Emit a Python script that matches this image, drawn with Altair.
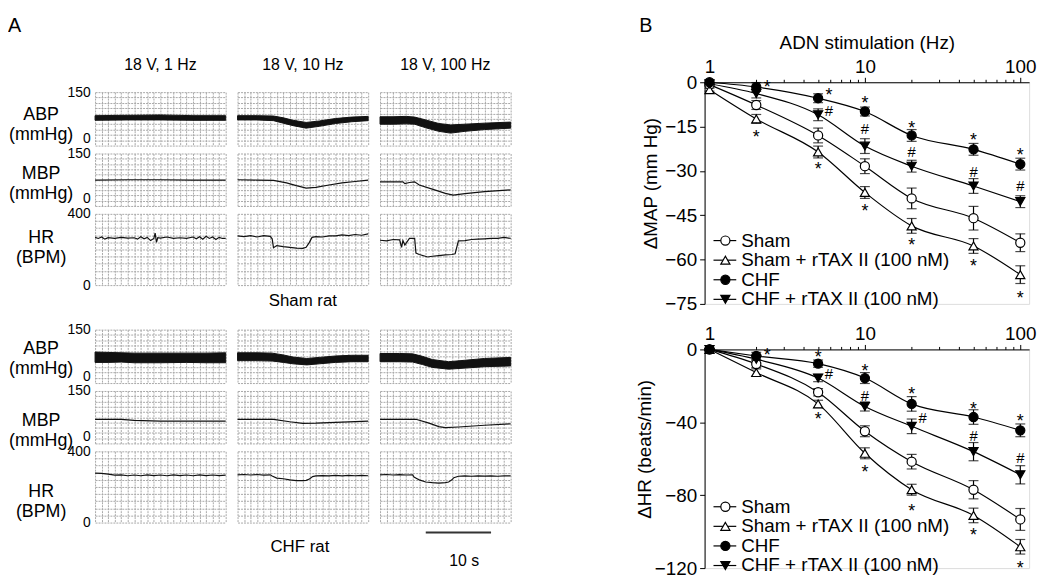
import altair as alt
import pandas as pd

FONT = "Liberation Sans"

# ---------------- Panel B data ----------------
freq = [1, 2, 5, 10, 20, 50, 100]
series = ["Sham", "Sham + rTAX II (100 nM)", "CHF", "CHF + rTAX II (100 nM)"]

map_sham = [-0.8, -7.7, -18.0, -28.4, -39.3, -46.0, -54.3]
map_sham_rtax = [-2.5, -12.4, -23.6, -37.3, -48.6, -55.4, -65.1]
map_chf = [0.0, -1.6, -5.4, -9.9, -18.0, -22.7, -27.7]
map_chf_rtax = [-0.5, -3.8, -11.0, -21.6, -28.4, -35.1, -40.4]
map_err_sham = [0.5, 1.5, 2.5, 2.5, 3.5, 4.0, 3.0]
map_err_sham_rtax = [0.5, 1.5, 2.0, 2.0, 2.5, 2.5, 3.0]
map_err_chf = [0.5, 1.5, 1.5, 1.5, 2.0, 2.0, 2.0]
map_err_chf_rtax = [0.5, 1.5, 2.0, 2.5, 2.0, 2.5, 2.0]

hr_sham = [0.0, -8.0, -23.5, -44.9, -61.6, -77.0, -93.3]
hr_sham_rtax = [0.0, -12.7, -29.9, -57.0, -77.0, -91.1, -108.3]
hr_chf = [0.0, -3.6, -7.8, -15.7, -29.9, -37.1, -44.4]
hr_chf_rtax = [0.0, -5.4, -15.7, -31.3, -42.2, -56.1, -68.8]
hr_err_sham = [0.5, 2.0, 2.0, 3.0, 4.0, 5.0, 6.0]
hr_err_sham_rtax = [0.5, 2.0, 2.0, 3.0, 3.0, 4.0, 4.0]
hr_err_chf = [0.5, 2.0, 2.0, 3.0, 4.0, 4.0, 3.5]
hr_err_chf_rtax = [0.5, 2.0, 2.0, 2.5, 4.0, 5.0, 5.0]

# significance marks: frequency, y position, symbol, side ("c" above/below, "r" right)
map_ann_x = [2, 2, 5, 5, 5, 10, 10, 10, 20, 20, 20, 50, 50, 50, 100, 100, 100]
map_ann_y = [-0.4, -17.1, -2.9, -9.3, -28.2, -5.8, -15.4, -42.4, -14.3, -23.2, -53.6,
             -18.2, -29.9, -61.0, -23.2, -34.7, -71.7]
map_ann_s = ["*", "*", "*", "#", "*", "*", "#", "*", "*", "#", "*", "*", "#", "*", "*", "#", "*"]
map_ann_side = ["r", "c", "r", "r", "c", "c", "c", "c", "c", "c", "c", "c", "c", "c", "c", "c", "c"]

hr_ann_x = [2, 5, 5, 5, 10, 10, 10, 20, 20, 20, 50, 50, 50, 100, 100, 100]
hr_ann_y = [-0.9, -2.2, -12.7, -35.9, -9.6, -24.8, -65.2, -22.6, -37.1, -86.4,
            -30.3, -47.1, -99.6, -37.1, -59.3, -117.7]
hr_ann_s = ["*", "*", "#", "*", "*", "#", "*", "*", "#", "*", "*", "#", "*", "*", "#", "*"]
hr_ann_side = ["r", "c", "r", "c", "c", "c", "c", "c", "r", "c", "c", "c", "c", "c", "c", "c"]

# ---------------- Panel A traces (time in s, values) ----------------
# Sham rat
s_abp1_t = [0, 5, 10, 15, 20]
s_abp1_lo = [71, 72, 72, 71, 71]
s_abp1_hi = [84, 85, 86, 84, 84]
s_abp2_t = [0, 3, 5.5, 7, 8.5, 10.5, 12.5, 15, 17.5, 20]
s_abp2_lo = [72, 72, 70, 63, 56, 49, 54, 62, 67, 70]
s_abp2_hi = [84, 84, 83, 78, 71, 65, 69, 76, 80, 82]
s_abp3_t = [0, 2, 4, 5.3, 7, 9, 10.8, 13, 16, 20]
s_abp3_lo = [60, 60, 61, 60, 50, 40, 35, 40, 45, 49]
s_abp3_hi = [81, 81, 82, 80, 72, 62, 58, 60, 63, 66]

s_mbp1_t = [0, 5, 10, 15, 20]
s_mbp1_v = [74, 75, 75, 74, 74]
s_mbp2_t = [0, 3, 5.5, 7.5, 9, 10.5, 12, 14, 16, 18, 20]
s_mbp2_v = [75, 74, 73, 66, 58, 51, 53, 60, 66, 70, 74]
s_mbp3_t = [0, 3.5, 3.8, 4.5, 5.3, 6, 8, 10, 11.2, 13, 16, 20]
s_mbp3_v = [69, 69, 64, 67, 69, 60, 48, 36, 31, 35, 41, 46]

s_hr1_t = [0, 0.5, 1, 1.5, 2, 3, 4, 5, 6, 6.5, 7, 7.5, 8, 8.5, 9, 9.2, 9.4, 9.6, 10, 11, 12,
           13, 14, 15, 15.5, 16, 16.5, 17, 17.5, 18, 18.5, 19, 19.5, 20]
s_hr1_v = [268, 262, 270, 258, 266, 262, 268, 264, 266, 258, 272, 260, 268, 250, 262, 292, 240,
           266, 264, 270, 262, 266, 262, 270, 260, 272, 258, 274, 262, 270, 256, 268, 262, 262]
s_hr2_t = [0, 1, 2, 3, 4, 5, 5.3, 5.5, 6, 7, 8, 9, 10, 10.5, 11, 11.4, 12, 13, 14, 15, 16, 17,
           18, 19, 20]
s_hr2_v = [276, 272, 278, 270, 278, 274, 260, 210, 222, 216, 212, 208, 206, 212, 240, 268, 272,
           270, 276, 276, 282, 278, 284, 280, 288]
s_hr3_t = [0, 1, 2, 3, 3.3, 3.5, 3.8, 4.5, 5.3, 5.5, 6, 7.3, 8, 9, 10, 11, 11.5, 12, 13, 14, 15,
           16, 17, 18, 19, 20]
s_hr3_v = [252, 248, 256, 254, 212, 250, 225, 262, 262, 180, 172, 158, 162, 166, 170, 172, 176,
           248, 250, 256, 258, 260, 262, 262, 268, 262]

# CHF rat
c_abp1_t = [0, 2, 4, 6, 10, 14, 17, 20]
c_abp1_lo = [58, 58, 59, 57, 57, 58, 57, 57]
c_abp1_hi = [87, 86, 85, 84, 84, 84, 84, 85]
c_abp2_t = [0, 3, 5.3, 7, 8.5, 10.6, 12.5, 15, 17.5, 20]
c_abp2_lo = [63, 63, 62, 58, 54, 51, 54, 58, 60, 60]
c_abp2_hi = [85, 85, 84, 79, 73, 69, 72, 76, 78, 78]
c_abp3_t = [0, 3, 5, 6.5, 8, 10.5, 13, 16, 20]
c_abp3_lo = [60, 60, 59, 52, 44, 39, 42, 46, 48]
c_abp3_hi = [83, 83, 82, 75, 66, 60, 64, 69, 72]

c_mbp1_t = [0, 4, 6, 10, 20]
c_mbp1_v = [69, 69, 66, 64, 64]
c_mbp2_t = [0, 5.5, 8, 10, 12, 16, 20]
c_mbp2_v = [69, 69, 62, 57.5, 58, 61, 64]
c_mbp3_t = [0, 5.5, 7.5, 9, 10, 12, 16, 20]
c_mbp3_v = [69, 69, 58, 48, 45, 47, 52, 56]

c_hr1_t = list(range(0, 21))
c_hr1_v = [278, 276, 272, 266, 268, 263, 267, 263, 268, 264, 267, 263, 268, 264, 267, 263, 268,
           264, 267, 264, 266]
c_hr2_t = [0, 1, 2, 3, 4, 5, 5.3, 6, 7, 8, 9, 10, 10.5, 11, 11.5, 12, 13, 14, 15, 16, 17, 18, 19, 20]
c_hr2_v = [268, 270, 267, 270, 266, 268, 262, 250, 246, 240, 236, 236, 237, 245, 258, 262, 264,
           262, 265, 262, 265, 263, 265, 263]
c_hr3_t = [0, 1, 2, 3, 4, 5, 5.2, 5.6, 6, 7, 8, 9, 10, 10.5, 11, 11.3, 12, 13, 14, 15, 16, 17, 18,
           19, 20]
c_hr3_v = [268, 270, 267, 269, 267, 268, 256, 248, 240, 228, 224, 222, 224, 228, 240, 252, 260,
           262, 260, 262, 261, 262, 260, 262, 262]

col_titles = ["18 V, 1 Hz", "18 V, 10 Hz", "18 V, 100 Hz"]
scale_bar_t = [7, 17]

# ---------------- layout constants ----------------
TW = 132
H_ABP, H_MBP, H_HR = 54, 53, 72
GRID = "#a8a8a8"
NO_FRAME = alt.ViewBackground(strokeOpacity=0)
T_SCALE = alt.Scale(domain=[0, 20], nice=False)
T_AXIS = alt.Axis(values=list(range(21)), grid=True, labels=False, ticks=False, domain=False,
                  title=None, gridColor=GRID, gridDash=[2, 1], gridWidth=1)


def label_text(txt, x, y, size, align="center"):
    return alt.Chart(pd.DataFrame({"lab": [txt]})).mark_text(
        fontSize=size, align=align, baseline="alphabetic", font=FONT, color="black"
    ).encode(text="lab:N", x=alt.value(x), y=alt.value(y))


def ghost_rule(x1, x2, y1, y2):
    # invisible rule that only fixes the layout bounds
    return alt.Chart(pd.DataFrame({"g": [0]})).mark_rule(strokeOpacity=0, opacity=0).encode(
        x=alt.value(x1), x2=alt.value(x2), y=alt.value(y1), y2=alt.value(y2))


def trace_panel(kind, col, t, v=None, lo=None, hi=None, title_y=20, extras=None):
    if kind == "HR":
        ymax, ystep, h, ttl = 400, 40, H_HR, ["HR", "(BPM)"]
        zero_base = "middle"
    else:
        ymax, ystep, h = 150, 15, (H_ABP if kind == "ABP" else H_MBP)
        ttl = [kind, "(mmHg)"]
        zero_base = "bottom"
    if v is not None:
        df = pd.DataFrame({"t": t, "v": v})
    else:
        df = pd.DataFrame({"t": t, "lo": lo, "hi": hi})
    xenc = alt.X("t:Q", scale=T_SCALE, axis=T_AXIS)
    yaxis_kw = dict(values=list(range(0, ymax + 1, ystep)), grid=True, ticks=False, domain=False,
                    gridColor=GRID, gridDash=[2, 1], gridWidth=1)
    if col == 0:
        yaxis = alt.Axis(labels=True, labelFontSize=14, labelPadding=5,
                         labelExpr=f"(datum.value==0||datum.value=={ymax})?datum.label:''",
                         labelBaseline={"condition": {"test": "datum.value==0", "value": zero_base},
                                        "value": "middle"},
                         title=ttl, titleAngle=0, titleAlign="center", titleBaseline="middle",
                         titleFontSize=18, titleLineHeight=20, titleX=-55, titleY=title_y,
                         **yaxis_kw)
    else:
        yaxis = alt.Axis(labels=False, title=None, **yaxis_kw)
    ysc = alt.Scale(domain=[0, ymax], nice=False)
    base = alt.Chart(df)
    if v is not None:
        main = base.mark_line(color="#111", strokeWidth=1.2).encode(
            x=xenc, y=alt.Y("v:Q", scale=ysc, axis=yaxis))
    else:
        main = base.mark_area(color="#111", stroke="#111", strokeWidth=1).encode(
            x=xenc, y=alt.Y("lo:Q", scale=ysc, axis=yaxis), y2="hi:Q")
    layers = [main] + (extras or [])
    return alt.layer(*layers).properties(width=TW, height=h, view=NO_FRAME)


def spacer(h, extras=None):
    base = alt.Chart(pd.DataFrame({"lab": [""]})).mark_text().encode(
        text="lab:N", x=alt.value(0), y=alt.value(0))
    return alt.layer(base, *(extras or [])).properties(width=TW, height=h, view=NO_FRAME)


bar_df = pd.DataFrame({"t": [scale_bar_t[0]], "t_end": [scale_bar_t[1]]})
scale_bar = alt.Chart(bar_df).mark_rule(color="#333", strokeWidth=2).encode(
    x=alt.X("t:Q", scale=T_SCALE, axis=T_AXIS), x2="t_end:Q", y=alt.value(H_HR + 10))

cells = [
    # header row: panel letter and column titles
    spacer(2, [label_text("A", -88, -51, 20, align="left"), ghost_rule(-88, -88, -60, 0),
               label_text(col_titles[0], TW / 2, -12, 16)]),
    spacer(2, [label_text(col_titles[1], TW / 2, -12, 16)]),
    spacer(2, [label_text(col_titles[2], TW / 2, -12, 16)]),
    # sham rat
    trace_panel("ABP", 0, s_abp1_t, lo=s_abp1_lo, hi=s_abp1_hi, title_y=23),
    trace_panel("ABP", 1, s_abp2_t, lo=s_abp2_lo, hi=s_abp2_hi),
    trace_panel("ABP", 2, s_abp3_t, lo=s_abp3_lo, hi=s_abp3_hi),
    trace_panel("MBP", 0, s_mbp1_t, v=s_mbp1_v, title_y=20),
    trace_panel("MBP", 1, s_mbp2_t, v=s_mbp2_v),
    trace_panel("MBP", 2, s_mbp3_t, v=s_mbp3_v),
    trace_panel("HR", 0, s_hr1_t, v=s_hr1_v, title_y=24),
    trace_panel("HR", 1, s_hr2_t, v=s_hr2_v,
                extras=[label_text("Sham rat", TW / 2, H_HR + 21, 17)]),
    trace_panel("HR", 2, s_hr3_t, v=s_hr3_v),
    # gap between the two rats
    spacer(29), spacer(29), spacer(29),
    # CHF rat
    trace_panel("ABP", 0, c_abp1_t, lo=c_abp1_lo, hi=c_abp1_hi, title_y=19),
    trace_panel("ABP", 1, c_abp2_t, lo=c_abp2_lo, hi=c_abp2_hi),
    trace_panel("ABP", 2, c_abp3_t, lo=c_abp3_lo, hi=c_abp3_hi),
    trace_panel("MBP", 0, c_mbp1_t, v=c_mbp1_v, title_y=30),
    trace_panel("MBP", 1, c_mbp2_t, v=c_mbp2_v),
    trace_panel("MBP", 2, c_mbp3_t, v=c_mbp3_v),
    trace_panel("HR", 0, c_hr1_t, v=c_hr1_v, title_y=41),
    trace_panel("HR", 1, c_hr2_t, v=c_hr2_v,
                extras=[label_text("CHF rat", TW / 2 - 3, H_HR + 30, 17)]),
    trace_panel("HR", 2, c_hr3_t, v=c_hr3_v,
                extras=[scale_bar, label_text("10 s", 85, H_HR + 44, 16)]),
]
panel_A = alt.concat(*cells, columns=3, spacing={"row": 8, "column": 12}, bounds="flush")

# ---------------- Panel B charts ----------------
BW, BH1, BH2 = 328, 224, 221
shape_scale = alt.Scale(domain=series, range=["circle", "triangle-up", "circle", "triangle-down"])
fill_scale = alt.Scale(domain=series, range=["white", "white", "black", "black"])
minor_vals = [1, 2, 3, 4, 5, 6, 7, 8, 9, 10, 20, 30, 40, 50, 60, 70, 80, 90, 100]


def long_df(vals, errs):
    rows = []
    for s, ys, es in zip(series, vals, errs):
        for f, yv, e in zip(freq, ys, es):
            rows.append({"series": s, "x": f, "y": yv, "lo": yv - e, "hi": yv + e})
    return pd.DataFrame(rows)


def dose_chart(df, ann, ymin, ystep, ytitle, title_x, h, xtitle, legend_y0, extras):
    xsc = alt.Scale(type="log", domain=[0.93, 114], nice=False)
    ysc = alt.Scale(domain=[ymin, 0], nice=False)
    xaxis = alt.Axis(orient="top", values=minor_vals, format="d",
                     labelExpr="(datum.value==1||datum.value==10||datum.value==100)?datum.label:''",
                     tickSize={"condition": {"test": "datum.value==1||datum.value==10||datum.value==100",
                                             "value": 5}, "value": 3},
                     labelFontSize=19, labelPadding=1, grid=False, title=xtitle,
                     titleFontSize=19, titlePadding=5)
    yaxis = alt.Axis(values=list(range(0, ymin - 1, -ystep)), tickSize=5, labelFontSize=19,
                     labelPadding=3, grid=False, title=ytitle, titleFontSize=19,
                     titleX=title_x, titleY=h / 2 - 10, titleAlign="center", titleBaseline="middle")
    base = alt.Chart(df)
    x = alt.X("x:Q", scale=xsc, axis=xaxis)
    lines = base.mark_line(interpolate="monotone", color="black", strokeWidth=1.2).encode(
        x=x, y=alt.Y("y:Q", scale=ysc, axis=yaxis), detail="series:N")
    err = base.mark_rule(color="black", strokeWidth=1.2).encode(x="x:Q", y="lo:Q", y2="hi:Q")
    cap_lo = base.mark_point(shape="stroke", size=100, color="black", strokeWidth=1.2).encode(
        x="x:Q", y="lo:Q")
    cap_hi = base.mark_point(shape="stroke", size=100, color="black", strokeWidth=1.2).encode(
        x="x:Q", y="hi:Q")
    pts = base.mark_point(filled=True, size=85, stroke="black", strokeWidth=1.2, opacity=1).encode(
        x="x:Q", y="y:Q",
        shape=alt.Shape("series:N", scale=shape_scale, legend=None),
        fill=alt.Fill("series:N", scale=fill_scale, legend=None))
    an = alt.Chart(ann)
    ann_layers = []
    for sym, side, fs, dy in [("*", "c", 18, 5), ("*", "r", 18, 5), ("#", "c", 15, 1), ("#", "r", 15, 1)]:
        ann_layers.append(an.transform_filter(
            f"datum.s=='{sym}' && datum.side=='{side}'").mark_text(
            fontSize=fs, font=FONT, color="black", dy=dy, dx=(11 if side == "r" else 0),
            baseline="middle").encode(x="x:Q", y="y:Q", text="s:N"))
    leg = alt.Chart(pd.DataFrame({"series": series, "row": [0, 1, 2, 3]})).transform_calculate(
        ly=f"{legend_y0} + datum.row*19.8")
    leg_line = leg.mark_rule(color="black", strokeWidth=1.2).encode(
        x=alt.value(9), x2=alt.value(32), y=alt.Y("ly:Q", scale=None))
    leg_pt = leg.mark_point(filled=True, size=85, stroke="black", strokeWidth=1.2, opacity=1).encode(
        x=alt.value(21), y=alt.Y("ly:Q", scale=None),
        shape=alt.Shape("series:N", scale=shape_scale, legend=None),
        fill=alt.Fill("series:N", scale=fill_scale, legend=None))
    leg_tx = leg.mark_text(fontSize=19, font=FONT, align="left", baseline="middle", color="black").encode(
        x=alt.value(37), y=alt.Y("ly:Q", scale=None), text="series:N")
    return alt.layer(lines, err, cap_lo, cap_hi, pts, *ann_layers, leg_line, leg_pt, leg_tx,
                     *extras).properties(width=BW, height=h)


map_df = long_df([map_sham, map_sham_rtax, map_chf, map_chf_rtax],
                 [map_err_sham, map_err_sham_rtax, map_err_chf, map_err_chf_rtax])
hr_df = long_df([hr_sham, hr_sham_rtax, hr_chf, hr_chf_rtax],
                [hr_err_sham, hr_err_sham_rtax, hr_err_chf, hr_err_chf_rtax])
map_ann = pd.DataFrame({"x": map_ann_x, "y": map_ann_y, "s": map_ann_s, "side": map_ann_side})
hr_ann = pd.DataFrame({"x": hr_ann_x, "y": hr_ann_y, "s": hr_ann_s, "side": hr_ann_side})

map_chart = dose_chart(map_df, map_ann, -75, 15, "ΔMAP (mm Hg)", -55, BH1, "ADN stimulation (Hz)",
                       160, [label_text("B", -66, -51, 20, align="left"),
                             ghost_rule(-75, -75, -71, 0)])
hr_chart = dose_chart(hr_df, hr_ann, -120, 20, "ΔHR (beats/min)", -61, BH2, None, 159,
                      [ghost_rule(-75, -75, 0, 10)])

panel_B = alt.vconcat(map_chart, hr_chart, spacing=46, bounds="flush")

chart = alt.hconcat(panel_A, panel_B, spacing=117).properties(
    padding={"left": 0, "top": 0, "right": 5, "bottom": 0}
).configure_view(stroke=None).configure(font=FONT).configure_axis(
    labelFont=FONT, titleFont=FONT, labelColor="black", titleColor="black",
    titleFontWeight="normal", domainColor="black", tickColor="black")

chart.save("out.html", embed_options={"renderer": "svg", "actions": False})
